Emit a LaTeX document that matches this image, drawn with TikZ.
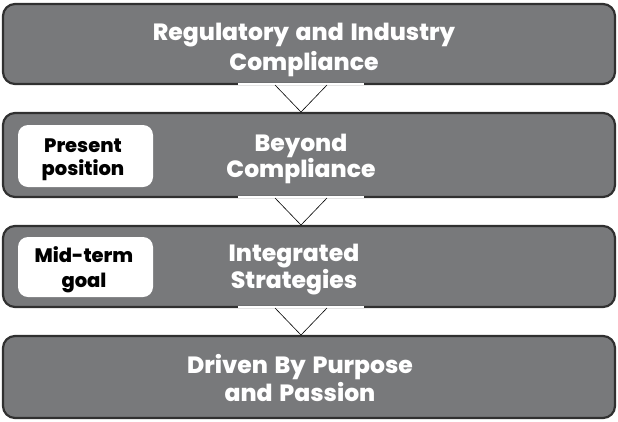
\documentclass[tikz,border=0pt]{standalone}
\usepackage{fontspec}
\setmainfont{Poppins}[BoldFont={Poppins ExtraBold}, BoldFeatures={WordSpace=1.5}]
\begin{document}
\begin{tikzpicture}[x=1pt,y=-1pt,
  stage/.style={draw=stageedge, line width=2.2pt, fill=stagefill, rounded corners=12pt},
  stagetext/.style={text=white, inner sep=0pt, align=center,
    font=\fontsize{23.5}{#1}\selectfont\bfseries},
  tagbox/.style={fill=white, rounded corners=10pt},
  tagtext/.style={inner sep=0pt, align=center, text=black,
    font=\fontsize{19.5}{#1}\selectfont\bfseries},
  seam/.style={draw=white, line width=2pt},
  chevron/.style={draw=black, line width=0.6pt}]
\definecolor{stagefill}{RGB}{120,121,123}
\definecolor{stageedge}{RGB}{48,48,48}
\useasboundingbox (0,0) rectangle (618,421);

% the four stages, top to bottom
\draw[stage] (3,4) rectangle (615,84);
\draw[stage] (3,113) rectangle (615,197);
\draw[stage] (3,226) rectangle (615,307);
\draw[stage] (3,336) rectangle (615,418);

\node[stagetext=30] (s1) at (304,50) {Regulatory and Industry\\Compliance};
\node[stagetext=25] (s2) at (301,159) {Beyond\\Compliance};
\node[stagetext=27] (s3) at (294,270) {Integrated\\Strategies};
\node[stagetext=28] (s4) at (300,378) {Driven By Purpose\\and Passion};

% markers on the left of the middle stages
\fill[tagbox] (18,125) rectangle (153,187);
\fill[tagbox] (18,237) rectangle (153,297);
\node[tagtext=23] (t1) at (83,160) {Present\\position};
\node[tagtext=25] (t2) at (84,270) {Mid-term\\goal};

% chevrons linking consecutive stages
\foreach \top/\bot/\name in {84/113/a, 197/226/b, 307/336/c}{
  \draw[seam] (238,\top) -- (364,\top);
  \coordinate (\name l) at (275,\top+1);
  \coordinate (\name r) at (327,\top+1);
  \coordinate (\name v) at (301,\bot-1);
  \draw[chevron] (\name l) -- (\name v) -- (\name r);
}
\end{tikzpicture}
\end{document}
